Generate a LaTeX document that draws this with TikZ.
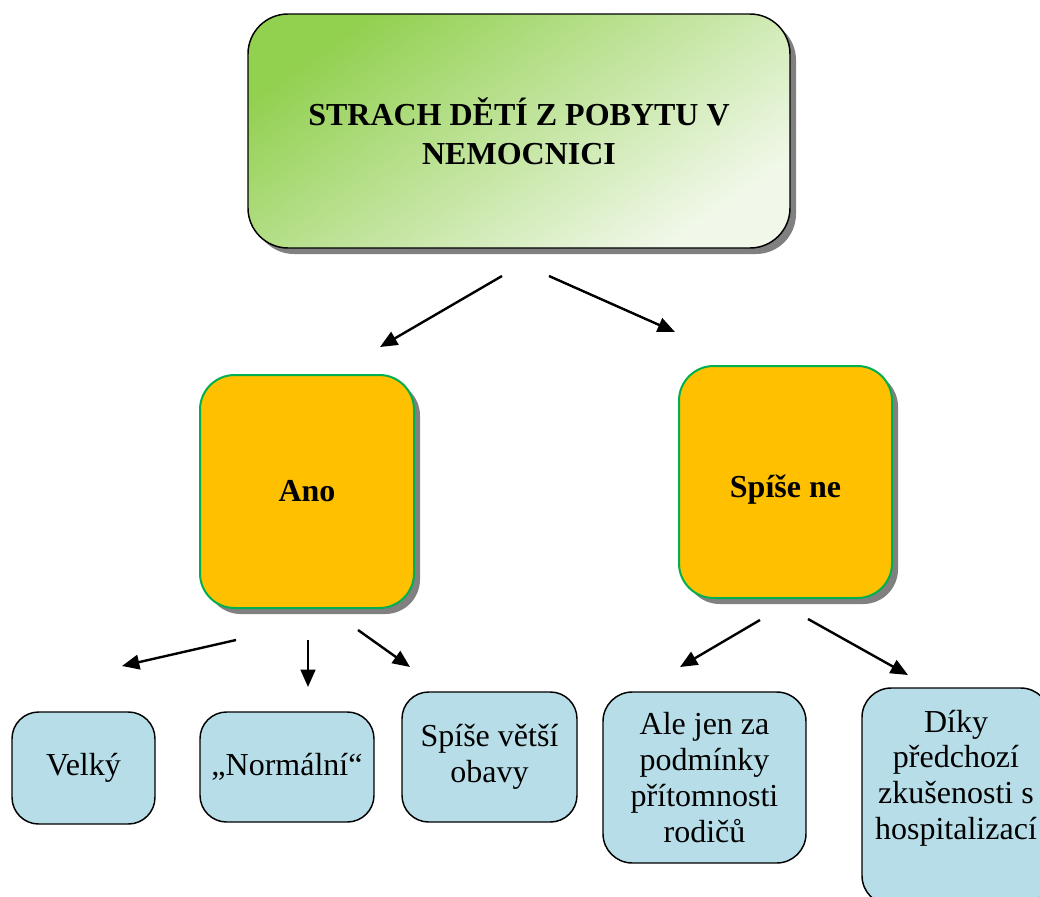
\documentclass[tikz,border=0pt]{standalone}
\usepackage{fontspec}
\setmainfont{Liberation Serif}
\usetikzlibrary{arrows.meta,shadows}

\definecolor{leafdark}{RGB}{146,208,80}
\definecolor{leaflight}{RGB}{241,248,234}
\definecolor{amber}{RGB}{255,192,0}
\definecolor{rimgreen}{RGB}{0,176,80}
\definecolor{paleblue}{RGB}{183,222,232}
\definecolor{shadowgray}{RGB}{128,128,128}

\begin{document}
\begin{tikzpicture}[x=0.75pt,y=-0.75pt,
  boxshadow/.style={drop shadow={shadow xshift=4.5pt,shadow yshift=-4.5pt,fill=shadowgray,opacity=1}},
  topicbox/.style={rectangle,rounded corners=30pt,draw=black,line width=1.1pt,
    top color=leafdark,bottom color=leaflight,shading angle=35,boxshadow,
    inner sep=0pt,align=center,font=\fontsize{24}{29.25}\selectfont\bfseries},
  answerbox/.style={rectangle,rounded corners=26pt,draw=rimgreen,line width=1.5pt,
    fill=amber,boxshadow,inner sep=0pt,align=center,
    font=\fontsize{24}{29}\selectfont\bfseries},
  detailbox/.style={rectangle,rounded corners=20pt,draw=black,line width=1.1pt,
    fill=paleblue,inner sep=0pt,align=center,
    font=\fontsize{24}{26.8}\selectfont},
  detailtext/.style={inner sep=0pt,align=center,font=\fontsize{24}{26.8}\selectfont},
  link/.style={line width=1.8pt,-{Triangle[length=13pt,width=11pt]}}
]
\useasboundingbox (0,0) rectangle (1040,897);
\clip (0,0) rectangle (1040,897);

% main question
\node[topicbox,minimum width=406.5pt,minimum height=175.5pt] (topic) at (519,131)
  {STRACH DĚTÍ Z POBYTU V\\NEMOCNICI};

% two answers
\node[answerbox,minimum width=160.5pt,minimum height=174.75pt] (ano) at (307,491.5) {Ano};
\node[answerbox,minimum width=159.75pt,minimum height=174pt,text height=28pt,text depth=5pt] (spisene) at (785.5,482) {Spíše ne};

% details under "Ano"
\node[detailbox,minimum width=107.25pt,minimum height=84pt] (velky) at (83.5,768) {Velký};
\node[detailbox,minimum width=130.5pt,minimum height=82.5pt] (normalni) at (287,767) {„Normální“};
\node[detailbox,minimum width=131.25pt,minimum height=97.5pt] (obavy) at (489.5,757) {Spíše větší\\obavy};

% details under "Spíše ne"
\node[detailbox,rounded corners=22pt,minimum width=152.25pt,minimum height=128.25pt] (rodice) at (704.5,777.5)
  {Ale jen za\\podmínky\\přítomnosti\\rodičů};
\node[detailbox,rounded corners=22pt,minimum width=141pt,minimum height=162.75pt] (diky) at (956,796.5) {};
\node[detailtext] (dikytext) at (956,778) {Díky\\předchozí\\zkušenosti s\\hospitalizací};

% arrow end points
\coordinate (t1) at (502,276);  \coordinate (t1e) at (380,347);
\coordinate (t2) at (549,276);  \coordinate (t2e) at (675,332);
\coordinate (a1) at (236,640);  \coordinate (a1e) at (122,666);
\coordinate (a2) at (308,640);  \coordinate (a2e) at (308,687);
\coordinate (a3) at (358,630);  \coordinate (a3e) at (410,667);
\coordinate (s1) at (760,620);  \coordinate (s1e) at (680,667);
\coordinate (s2) at (808,619);  \coordinate (s2e) at (908,675);

\draw[link] (t1) -- (t1e);
\draw[link] (t2) -- (t2e);
\draw[link] (a1) -- (a1e);
\draw[link] (a2) -- (a2e);
\draw[link] (a3) -- (a3e);
\draw[link] (s1) -- (s1e);
\draw[link] (s2) -- (s2e);
\end{tikzpicture}
\end{document}
